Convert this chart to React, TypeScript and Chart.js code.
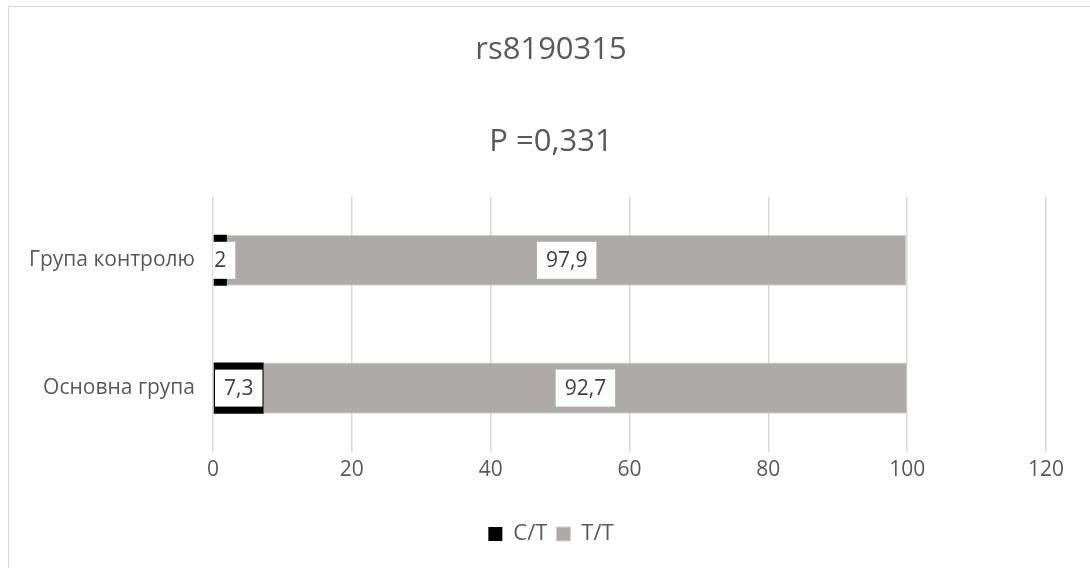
import { useEffect, useRef } from "react";
import { Chart, registerables } from "chart.js";

Chart.register(...registerables);

// Genotype shares (%) per group
const groups = ["Група контролю", "Основна група"];
const seriesNames = ["C/T", "T/T"];
const ctValues = [2, 7.3];
const ttValues = [97.9, 92.7];

const chartTitle = "rs8190315";
const chartSubtitle = "P =0,331";

const axisMin = 0;
const axisMax = 120;
const axisStep = 20;

const FONT = "'Open Sans', 'DejaVu Sans', sans-serif";
const TEXT = "#595959";

// White boxed value labels centred on each bar segment (clipped to the plot area)
const valueBoxes = {
  id: "valueBoxes",
  afterDatasetsDraw(chart: any) {
    const { ctx, chartArea } = chart;
    ctx.save();
    ctx.font = `21px ${FONT}`;
    ctx.textAlign = "center";
    ctx.textBaseline = "middle";
    chart.data.datasets.forEach((ds: any, di: number) => {
      const meta = chart.getDatasetMeta(di);
      meta.data.forEach((bar: any, i: number) => {
        const v = ds.data[i];
        const { x, y, base } = bar.getProps(["x", "y", "base"], true);
        const cx = (x + base) / 2;
        const label = String(v).replace(".", ",");
        const tw = ctx.measureText(label).width;
        const w = tw + 18;
        const h = 37;
        const left = Math.max(cx - w / 2, chartArea.left);
        const right = cx + w / 2;
        ctx.fillStyle = "#ffffff";
        ctx.fillRect(left, y - h / 2, right - left, h);
        ctx.fillStyle = "#404040";
        ctx.fillText(label, cx, y + 1);
      });
    });
    ctx.restore();
  },
};

export default function App() {
  const canvasRef = useRef<HTMLCanvasElement | null>(null);

  useEffect(() => {
    const canvas = canvasRef.current;
    if (!canvas) return;
    const chart = new Chart(canvas, {
      type: "bar",
      data: {
        labels: groups,
        datasets: [
          {
            label: seriesNames[0],
            data: ctValues,
            backgroundColor: "#000000",
            borderWidth: 0,
            barPercentage: 0.4,
            categoryPercentage: 1,
            xAxisID: "x",
            yAxisID: "y",
          },
          {
            label: seriesNames[1],
            data: ttValues,
            backgroundColor: "#aeaaaa",
            borderColor: "#d3d0d0",
            borderWidth: 1,
            barPercentage: 0.4,
            categoryPercentage: 1,
            xAxisID: "x",
            yAxisID: "y",
          },
        ],
      },
      options: {
        indexAxis: "y",
        responsive: false,
        animation: false,
        layout: { padding: { top: 0, bottom: 13, left: 0, right: 0 } },
        scales: {
          x: {
            stacked: true,
            min: axisMin,
            max: axisMax,
            ticks: {
              stepSize: axisStep,
              color: TEXT,
              font: { size: 21, family: FONT },
              padding: 5,
            },
            grid: { color: "#d9d9d9", lineWidth: 1.5, drawTicks: false },
            border: { display: false },
            afterFit: (s: any) => {
              s.height = 62;
            },
          },
          y: {
            stacked: true,
            ticks: {
              color: TEXT,
              font: { size: 21, family: FONT },
              padding: 18,
            },
            grid: { display: false, drawTicks: false },
            border: { display: false },
            afterFit: (s: any) => {
              s.width = 204;
            },
          },
          yRight: {
            type: "linear",
            position: "right",
            display: true,
            grid: { display: false, drawTicks: false },
            ticks: { display: false },
            border: { display: false },
            afterFit: (s: any) => {
              s.width = 47;
            },
          },
        },
        plugins: {
          title: {
            display: true,
            text: chartTitle,
            color: TEXT,
            font: { size: 31, weight: "normal", family: FONT },
            padding: { top: 25, bottom: 0 },
          },
          subtitle: {
            display: true,
            text: chartSubtitle,
            color: TEXT,
            font: { size: 31, weight: "normal", family: FONT },
            padding: { top: 54, bottom: 36 },
          },
          legend: {
            position: "bottom",
            labels: {
              boxWidth: 14,
              boxHeight: 14,
              color: TEXT,
              font: { size: 22, family: FONT },
              padding: 9,
            },
          },
          tooltip: { enabled: false },
        },
      },
      plugins: [valueBoxes],
    } as any);
    return () => chart.destroy();
  }, []);

  return (
    <div
      style={{
        position: "fixed",
        left: 8,
        top: 6,
        width: 1082,
        height: 562,
        overflow: "hidden",
        background: "#ffffff",
      }}
    >
      <div
        style={{
          width: 1100,
          height: 580,
          border: "1px solid #d9d9d9",
          boxSizing: "border-box",
        }}
      >
        <canvas ref={canvasRef} width={1084} height={561} style={{ display: "block" }} />
      </div>
    </div>
  );
}
